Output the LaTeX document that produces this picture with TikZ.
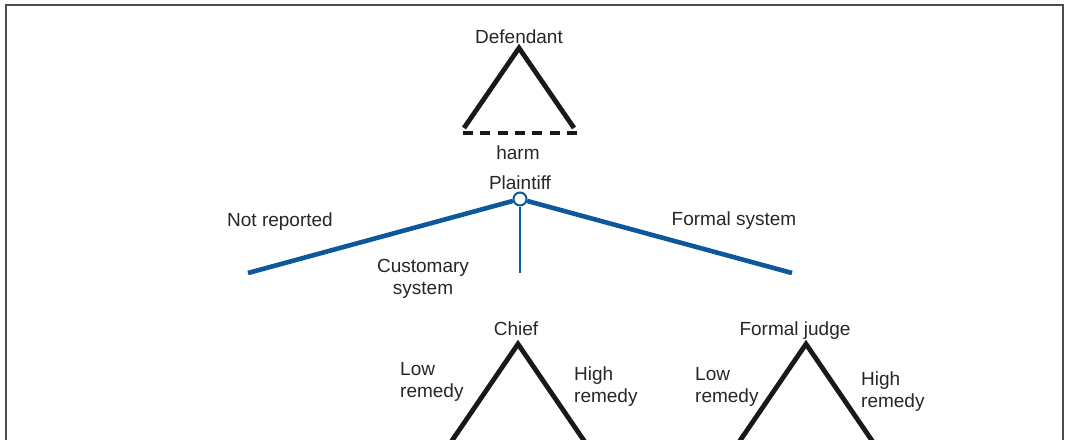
\documentclass[tikz,border=0pt]{standalone}
\usepackage{fontspec}
\setmainfont{Liberation Sans}
\begin{document}
\begin{tikzpicture}[x=1pt,y=-1pt,
  lbl/.style={text=black!85, font=\fontsize{19}{22}\selectfont, inner sep=0pt},
  lbll/.style={lbl, align=left, anchor=west},
  tri/.style={line width=4.8pt, black!90, line join=miter},
  branch/.style={line width=4.6pt, bluec},
  thinbranch/.style={line width=2.2pt, bluec},
  frame/.style={line width=2pt, black!70}]
\definecolor{bluec}{RGB}{12,88,155}
\useasboundingbox (0,0) rectangle (1065,439);
\clip (0,0) rectangle (1065,439);
% frame
\draw[frame] (6,460) -- (6,5) -- (1063,5) -- (1063,460);
% defendant
\node[lbl] (def) at (519,37) {Defendant};
\coordinate (dapex) at (519,48);
\coordinate (dl) at (464,128);
\coordinate (dr) at (574,128);
\draw[tri] (dl) -- (dapex) -- (dr);
\coordinate (hl) at (463,133);
\coordinate (hr) at (577,133);
\draw[line width=4.4pt, black!90, dash pattern=on 10pt off 7.33pt] (hl) -- (hr);
\node[lbl] (harm) at (518,153) {harm};
% plaintiff
\node[lbl] (pl) at (520,183) {Plaintiff};
\coordinate (lend) at (248,273);
\coordinate (mend) at (520,273);
\coordinate (rend) at (792,273);
\node[circle, draw=bluec, line width=2pt, fill=white, minimum size=13pt, inner sep=0pt] (p) at (520,199) {};
\draw[branch] (p) -- (lend);
\draw[branch] (p) -- (rend);
\draw[thinbranch] (p) -- (mend);
\node[lbl] (nr) at (280,222) {Not reported};
\node[lbl] (fs) at (734,221) {Formal system};
\node[lbl, align=center] (cs) at (423,279) {Customary\\system};
% chief
\node[lbl] (chief) at (516,329) {Chief};
\coordinate (capex) at (518,344);
\coordinate (cl) at (449,445);
\coordinate (cr) at (587,445);
\draw[tri] (cl) -- (capex) -- (cr);
\node[lbll] (clow) at (400,382) {Low\\remedy};
\node[lbll] (chigh) at (574,387) {High\\remedy};
% formal judge
\node[lbl] (fj) at (795,331) {Formal judge};
\coordinate (fapex) at (806,344);
\coordinate (fl) at (737,445);
\coordinate (fr) at (875,445);
\draw[tri] (fl) -- (fapex) -- (fr);
\node[lbll] (flow) at (695,387) {Low\\remedy};
\node[lbll] (fhigh) at (861,392) {High\\remedy};
\end{tikzpicture}
\end{document}
